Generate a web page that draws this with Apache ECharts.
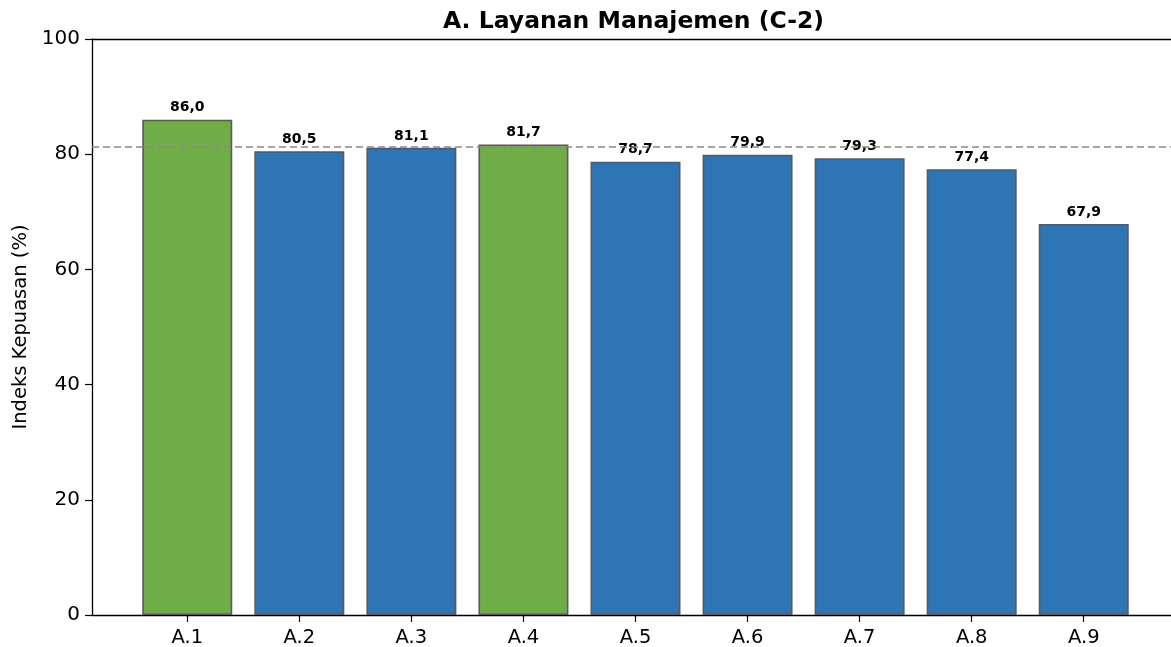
<!DOCTYPE html>
<html>
<head>
<meta charset="utf-8">
<script src="https://cdn.jsdelivr.net/npm/echarts@6/dist/echarts.min.js"></script>
<style>
  html, body { margin: 0; padding: 0; background: #fff; }
  #chart { width: 1171px; height: 647px; }
</style>
</head>
<body>
<div id="chart"></div>
<script>
const categories = ['A.1', 'A.2', 'A.3', 'A.4', 'A.5', 'A.6', 'A.7', 'A.8', 'A.9'];
const values = [86.0, 80.5, 81.1, 81.7, 78.7, 79.9, 79.3, 77.4, 67.9];
const threshold = 81.25;
const yTicks = [0, 20, 40, 60, 80, 100];

const GREEN = '#70ad47';
const BLUE = '#2e75b6';
const FONT = 'DejaVu Sans';

const chart = echarts.init(document.getElementById('chart'), null, { renderer: 'canvas' });

// bar data: x is category index, colour depends on being above the dashed line
const barData = values.map((v, i) => ({
  value: [i, v],
  itemStyle: { color: v >= threshold ? GREEN : BLUE }
}));

chart.setOption({
  animation: false,
  backgroundColor: '#fff',
  title: {
    text: 'A. Layanan Manajemen (C-2)',
    left: 438, top: 5,
    textStyle: { fontFamily: FONT, fontSize: 23.5, fontWeight: 'bold', color: '#000' }
  },
  grid: { left: 92, top: 39, width: 1087, bottom: 32, containLabel: false, outerBoundsMode: 'none' },
  xAxis: {
    type: 'value',
    min: -0.85, max: categories.length - 1 + 0.85,
    splitLine: { show: false },
    axisLine: { show: true, onZero: false, lineStyle: { color: '#000', width: 1.3 } },
    axisTick: { show: true, length: 7, lineStyle: { color: '#000', width: 1.2 },
      customValues: categories.map((c, i) => i) },
    axisLabel: {
      customValues: categories.map((c, i) => i),
      formatter: v => categories[Math.round(v)] || '',
      fontFamily: FONT, fontSize: 19.5, color: '#000', margin: 13
    }
  },
  yAxis: {
    type: 'value',
    min: 0, max: 100, interval: 20,
    name: 'Indeks Kepuasan (%)',
    nameLocation: 'middle', nameGap: 58, nameRotate: 90,
    nameTextStyle: { fontFamily: FONT, fontSize: 19.5, color: '#000' },
    splitLine: { show: false },
    axisLine: { show: true, onZero: false, lineStyle: { color: '#000', width: 1.3 } },
    axisTick: { show: true, length: 7, lineStyle: { color: '#000', width: 1.2 } },
    axisLabel: {
      formatter: v => yTicks.includes(v) ? String(v) : '',
      fontFamily: FONT, fontSize: 20, color: '#000', margin: 12
    }
  },
  series: [{
    type: 'bar',
    data: barData,
    barWidth: 90,
    itemStyle: { borderColor: '#5a5a5a', borderWidth: 1.6 },
    label: {
      show: true, position: 'top', distance: 5,
      formatter: p => p.value[1].toFixed(1).replace('.', ','),
      fontFamily: FONT, fontSize: 14, fontWeight: 'bold', color: '#000'
    },
    markLine: {
      silent: true, symbol: 'none',
      label: { show: false },
      lineStyle: { color: '#888888', type: [7, 4], width: 1.6 },
      data: [{ yAxis: threshold }]
    }
  }, {
    // top border of the plot area
    type: 'line', data: [],
    markLine: {
      silent: true, symbol: 'none', label: { show: false },
      lineStyle: { color: '#000', type: 'solid', width: 1.3 },
      data: [{ yAxis: 100 }]
    }
  }]
});
</script>
</body>
</html>
